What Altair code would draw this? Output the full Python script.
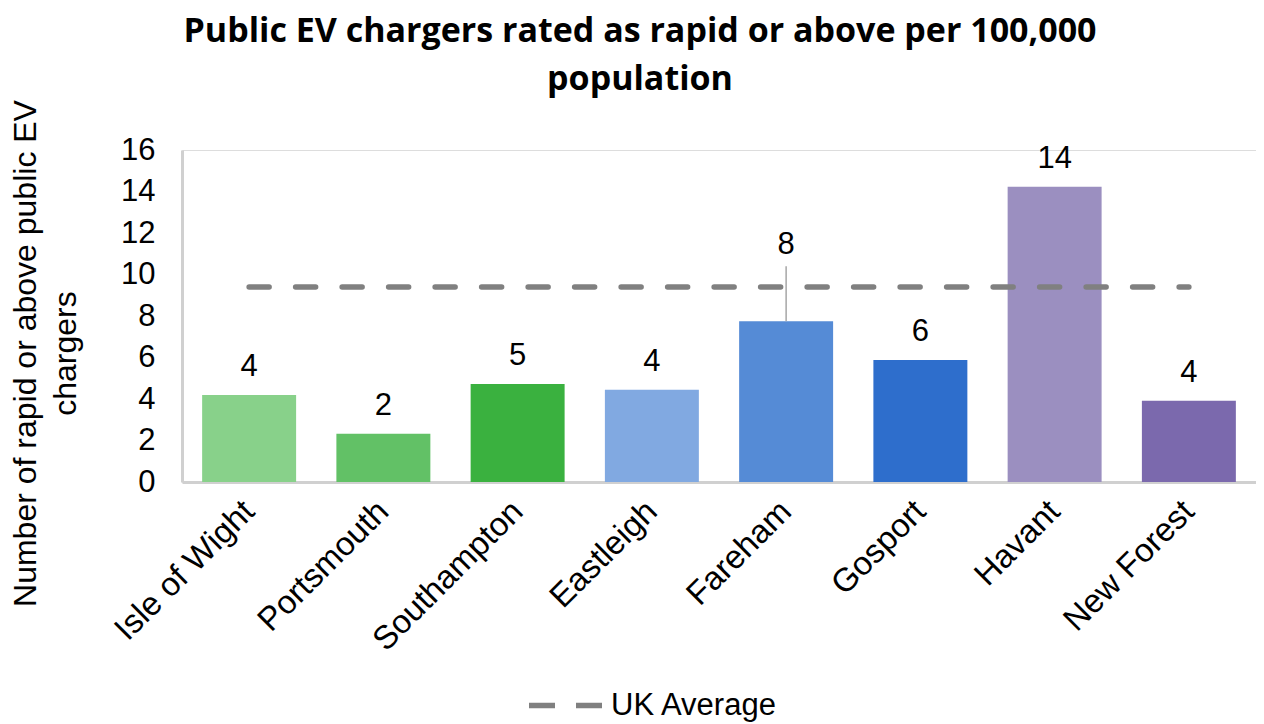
import altair as alt
import pandas as pd

areas = ["Isle of Wight", "Portsmouth", "Southampton", "Eastleigh",
         "Fareham", "Gosport", "Havant", "New Forest"]
values = [4.19, 2.32, 4.72, 4.44, 7.75, 5.88, 14.23, 3.91]
uk_average = 9.4
colors = ["#88D18A", "#62C166", "#3AB13F", "#81A9E1",
          "#558BD6", "#2E6ECC", "#9B8FC0", "#7B69AD"]
leader_top = 10.4  # where Fareham's leader line ends (data units)

df = pd.DataFrame({
    "area": areas,
    "value": values,
    "label": [str(int(round(v))) for v in values],
    "avg": [uk_average] * len(areas),
    "series": ["UK Average"] * len(areas),
})

FONT = "Liberation Sans"

x = alt.X("area:N", sort=areas, title=None,
          scale=alt.Scale(paddingInner=0.3, paddingOuter=0.15),
          axis=alt.Axis(labelAngle=315, labelAlign="right", labelBaseline="middle",
                        labelPadding=24, labelFontSize=33, labelFont=FONT,
                        labelColor="#000000", ticks=False, labelLimit=0,
                        domainColor="#d0d0d0", domainWidth=3, labelOverlap=False))
y = alt.Y("value:Q", title=["Number of rapid or above public EV", "chargers"],
          scale=alt.Scale(domain=[0, 16], nice=False),
          axis=alt.Axis(values=list(range(0, 17, 2)), grid=False, ticks=False,
                        labelFontSize=31, labelFont=FONT, labelColor="#000000",
                        labelPadding=27, domainColor="#d0d0d0", domainWidth=3,
                        titleFontSize=32, titleFont=FONT, titleFontWeight="normal",
                        titleColor="#000000", titleAngle=270, titleAlign="center",
                        titleBaseline="top", titleX=-172, titleY=203,
                        titleLineHeight=40))

base = alt.Chart(df)

bars = base.mark_bar().encode(
    x=x, y=y,
    color=alt.Color("area:N", scale=alt.Scale(domain=areas, range=colors), legend=None),
)

avg_line = base.mark_line(strokeWidth=5.5, strokeCap="round", strokeDash=[20, 26.5]).encode(
    x=alt.X("area:N", sort=areas),
    y=alt.Y("avg:Q"),
    stroke=alt.Stroke("series:N", scale=alt.Scale(range=["#808080"]),
                      legend=alt.Legend(title=None, orient="none", legendX=344, legendY=516,
                                        symbolType="stroke", symbolSize=5329,
                                        symbolStrokeWidth=5.5, symbolDash=[26, 21],
                                        labelFontSize=31, labelFont=FONT, labelLimit=0,
                                        labelColor="#000000", labelOffset=6, padding=0)),
)

labels = base.transform_filter(alt.datum.area != "Fareham").mark_text(
    baseline="bottom", dy=-12, fontSize=31, font=FONT, color="#000000"
).encode(x=alt.X("area:N", sort=areas), y=alt.Y("value:Q"), text="label:N")

leader = base.transform_filter(alt.datum.area == "Fareham").mark_rule(
    color="#a6a6a6", strokeWidth=1.5
).encode(x=alt.X("area:N", sort=areas), y=alt.Y("value:Q"), y2=alt.datum(leader_top))

far_label = base.transform_filter(alt.datum.area == "Fareham").mark_text(
    baseline="bottom", dy=-5, fontSize=31, font=FONT, color="#000000"
).encode(x=alt.X("area:N", sort=areas), y=alt.datum(leader_top), text="label:N")

chart = alt.layer(bars, avg_line, leader, labels, far_label).properties(
    width=1074, height=332,
    title=alt.Title(["Public EV chargers rated as rapid or above per 100,000", "population"],
                    font="Open Sans", fontSize=34, fontWeight="bold", color="#000000",
                    anchor="middle", dx=-79, lineHeight=48, offset=3),
    autosize=alt.AutoSizeParams(type="none"),
    padding={"left": 174, "top": 142, "right": 0, "bottom": 242},
).configure_view(stroke=None).configure(background="white")

chart.save("out.html", embed_options={"renderer": "svg", "actions": False})
